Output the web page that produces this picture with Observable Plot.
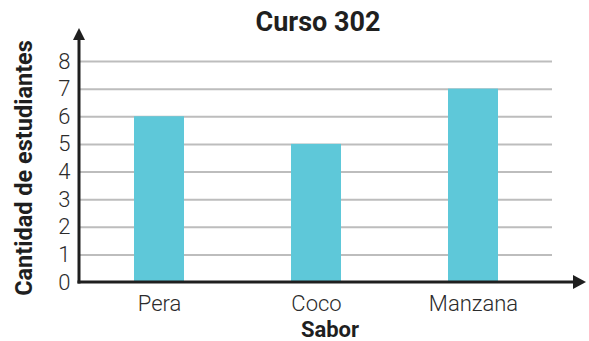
<!DOCTYPE html>
<html>
<head>
<meta charset="utf-8">
<script src="https://cdn.jsdelivr.net/npm/d3@7"></script>
<script src="https://cdn.jsdelivr.net/npm/@observablehq/plot@0.6"></script>
<style>
  html, body { margin: 0; padding: 0; background: #fff; }
</style>
</head>
<body>
<div id="chart"></div>
<script>
const categories = ["Pera", "Coco", "Manzana"];
const values = [6, 5, 7];
const yTicks = [0, 1, 2, 3, 4, 5, 6, 7, 8];
const gridTicks = [1, 2, 3, 4, 5, 6, 7, 8];
const title = "Curso 302";
const xLabel = "Sabor";
const yLabel = "Cantidad de estudiantes";

const data = categories.map((c, i) => ({ sabor: c, cantidad: values[i] }));

const axesMark = (index, scales, values, dimensions) => {
  const g = d3.create("svg:g");
  const x0 = dimensions.marginLeft;
  const y0 = scales.y(0);
  const yTop = scales.y(8) - 33;
  const xRight = dimensions.width - 3;
  g.append("line").attr("x1", x0).attr("x2", x0).attr("y1", y0 + 1.5).attr("y2", yTop + 11)
    .attr("stroke", "#1f1f1f").attr("stroke-width", 3);
  g.append("path").attr("d", `M${x0 - 6},${yTop + 12}L${x0 + 6},${yTop + 12}L${x0},${yTop}Z`).attr("fill", "#1f1f1f");
  g.append("line").attr("x1", x0 - 1.5).attr("x2", xRight - 12).attr("y1", y0).attr("y2", y0)
    .attr("stroke", "#1f1f1f").attr("stroke-width", 3);
  g.append("path").attr("d", `M${xRight - 13},${y0 - 7}L${xRight - 13},${y0 + 7}L${xRight},${y0}Z`).attr("fill", "#1f1f1f");
  return g.node();
};

const chart = Plot.plot({
  width: 589,
  height: 341,
  marginLeft: 79,
  marginRight: 37,
  marginTop: 61,
  marginBottom: 59,
  style: { fontFamily: "Roboto, 'DejaVu Sans', sans-serif", color: "#2b2b2b", background: "#fff" },
  x: { domain: categories, paddingInner: 0.683, paddingOuter: 0.342, label: null },
  y: { domain: [0, 8], label: null },
  marks: [
    Plot.ruleY(gridTicks, { stroke: "#bdbdbd", strokeWidth: 2 }),
    Plot.barY(data, { x: "sabor", y: "cantidad", fill: "#5ec8d9" }),
    Plot.axisY({ ticks: yTicks, tickSize: 0, tickPadding: 9, fontSize: 22, fontWeight: 300, label: null, tickFormat: d => String(d) }),
    Plot.axisX({ tickSize: 0, tickPadding: 13, fontSize: 22, fontWeight: 300, label: null }),
    axesMark,
    Plot.text([title], { frameAnchor: "top", lineAnchor: "middle", textAnchor: "middle", dy: -39, dx: 2, fontSize: 27, fontWeight: "bold", fill: "#1f1f1f" }),
    Plot.text([xLabel], { frameAnchor: "bottom", lineAnchor: "middle", textAnchor: "middle", dy: 47, dx: 14, fontSize: 22, fontWeight: "bold", fill: "#1f1f1f" }),
    Plot.text([yLabel], { frameAnchor: "left", lineAnchor: "middle", textAnchor: "middle", rotate: -90, dx: -55, dy: -4, fontSize: 23.5, fontWeight: "bold", fill: "#1f1f1f" })
  ]
});

document.getElementById("chart").appendChild(chart);
</script>
</body>
</html>
